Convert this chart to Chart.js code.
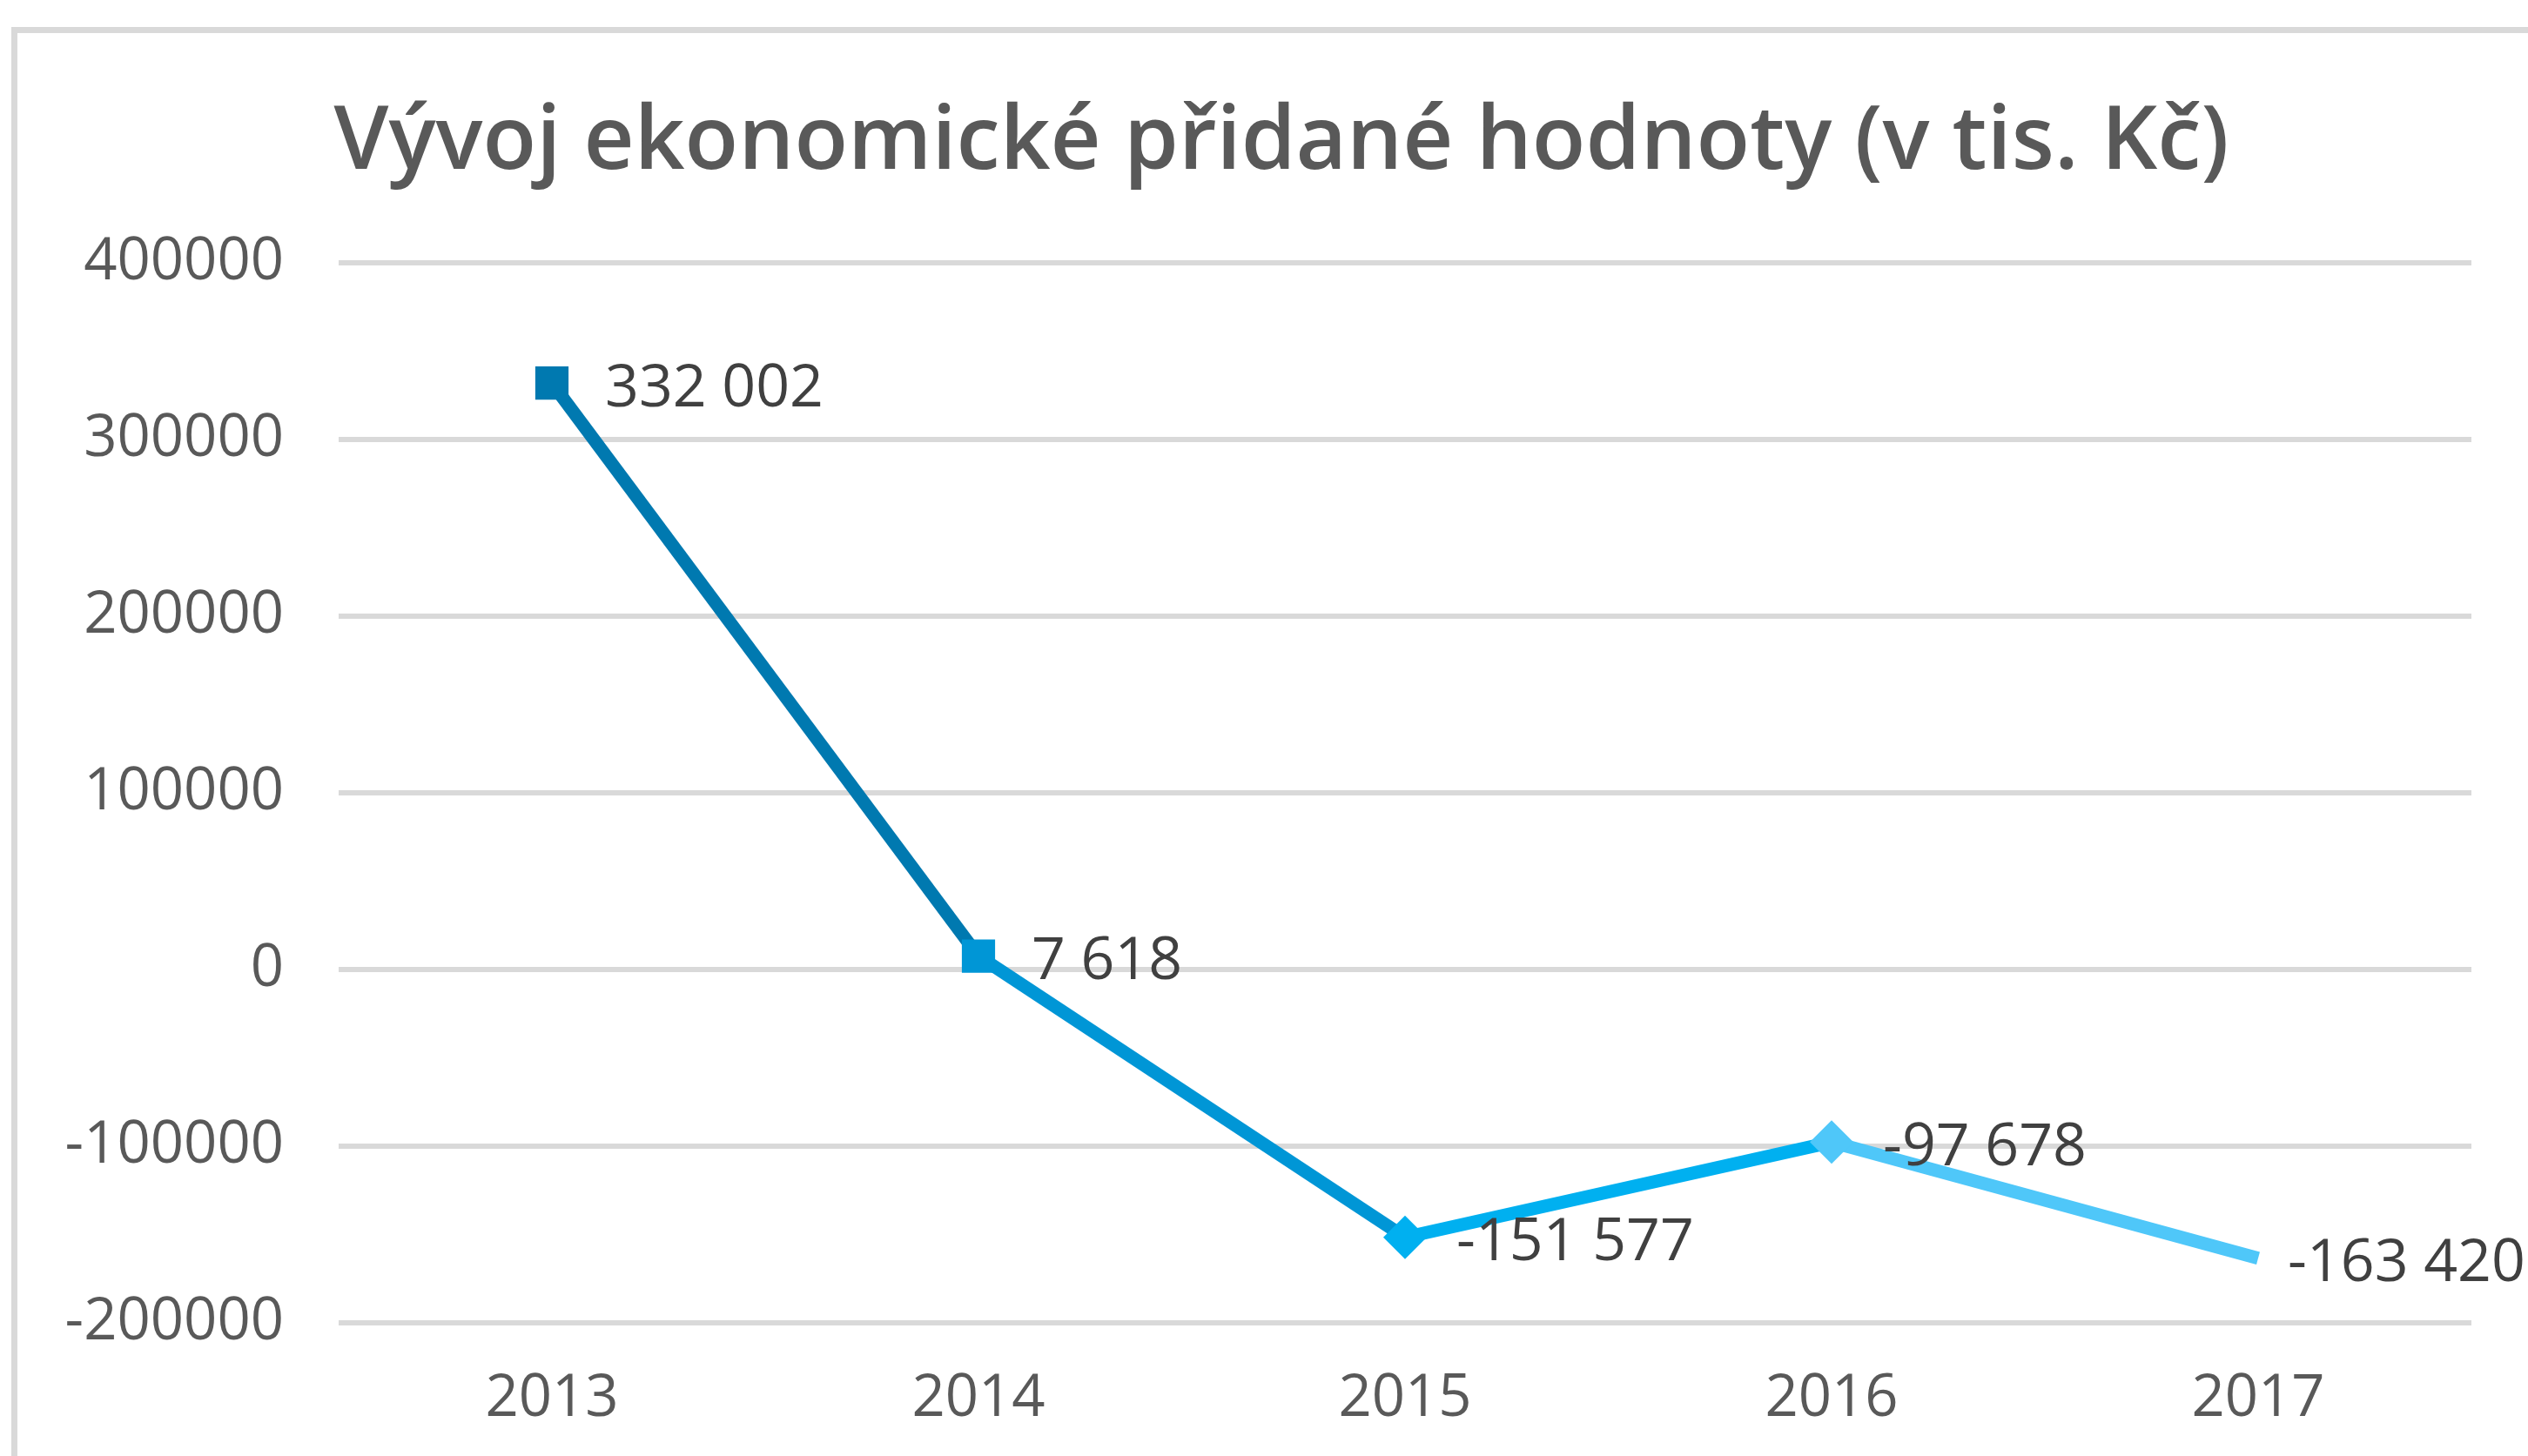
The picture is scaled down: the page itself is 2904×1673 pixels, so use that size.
<!DOCTYPE html>
<html>
<head>
<meta charset="utf-8">
<script src="https://cdn.jsdelivr.net/npm/chart.js@4/dist/chart.umd.min.js"></script>
<style>
  html, body { margin: 0; padding: 0; background: #ffffff; overflow: hidden; width: 2904px; height: 1673px; }
  #frame { position: absolute; left: 13px; top: 31px; width: 3200px; height: 2000px; border: 7px solid #d9d9d9; box-sizing: border-box; }
  #c { position: absolute; left: 0; top: 0; }
</style>
</head>
<body>
<div id="frame"></div>
<canvas id="c" width="2904" height="1673"></canvas>
<script>
// ---- data ----
const titleText = 'Vývoj ekonomické přidané hodnoty (v tis. Kč)';
const years = ['2013', '2014', '2015', '2016', '2017'];
const values = [332002, 7618, -151577, -97678, -163420];
const yMin = -200000;
const yMax = 400000;
const yStep = 100000;

// ---- styles ----
const segmentColors = ['#0079B0', '#0096D6', '#00B0F0', '#4FC7F9'];
const pointColors = ['#0079B0', '#0096D6', '#00B0F0', '#4FC7F9', '#4FC7F9'];
const pointStyles = ['rect', 'rect', 'rectRot', 'rectRot', 'circle'];
const pointRadii = [27, 27, 25, 25, 0];

function fmt(v) {
  const s = Math.abs(v).toString().replace(/\B(?=(\d{3})+(?!\d))/g, ' ');
  return (v < 0 ? '-' : '') + s;
}

const dataLabels = {
  id: 'dataLabels',
  afterDatasetsDraw(chart) {
    const ctx = chart.ctx;
    const meta = chart.getDatasetMeta(0);
    ctx.save();
    ctx.font = '400 68px "Open Sans"';
    ctx.fillStyle = '#404040';
    ctx.textAlign = 'left';
    ctx.textBaseline = 'middle';
    meta.data.forEach((el, i) => {
      const off = pointRadii[i] + 34;
      ctx.fillText(fmt(values[i]), el.x + off, el.y + 7);
    });
    ctx.restore();
  }
};

Chart.defaults.font.family = '"Open Sans", sans-serif';

new Chart(document.getElementById('c'), {
  type: 'line',
  data: {
    labels: years,
    datasets: [{
      data: values,
      borderWidth: 15,
      borderColor: segmentColors[0],
      segment: { borderColor: c => segmentColors[c.p0DataIndex] },
      tension: 0,
      pointStyle: pointStyles,
      pointRadius: pointRadii,
      pointHoverRadius: pointRadii,
      pointBackgroundColor: pointColors,
      pointBorderColor: pointColors,
      pointBorderWidth: 0,
      fill: false
    }]
  },
  options: {
    responsive: false,
    animation: false,
    devicePixelRatio: 1,
    layout: { padding: { left: 40, right: 0, top: 105, bottom: 0 } },
    plugins: {
      legend: { display: false },
      tooltip: { enabled: false },
      title: {
        display: true,
        text: titleText,
        color: '#595959',
        font: { family: '"Open Sans"', size: 101, weight: '600', lineHeight: 1.2 },
        padding: { top: 0, bottom: 76 }
      }
    },
    scales: {
      x: {
        offset: true,
        grid: { display: false, drawTicks: false },
        border: { display: false },
        ticks: { color: '#595959', font: { size: 67 }, padding: 48, maxRotation: 0 },
        afterFit: s => { s.height = 153; }
      },
      y: {
        min: yMin,
        max: yMax,
        grid: { color: '#d9d9d9', lineWidth: 6, drawTicks: false },
        border: { display: false },
        ticks: {
          stepSize: yStep,
          color: '#595959',
          font: { size: 67 },
          padding: 63,
          callback: v => String(v)
        },
        afterFit: s => { s.width = 349; }
      },
      yRightSpace: {
        position: 'right',
        display: true,
        min: yMin,
        max: yMax,
        grid: { display: false, drawTicks: false },
        border: { display: false },
        ticks: { display: false },
        afterFit: s => { s.width = 65; }
      }
    }
  },
  plugins: [dataLabels]
});
</script>
</body>
</html>
